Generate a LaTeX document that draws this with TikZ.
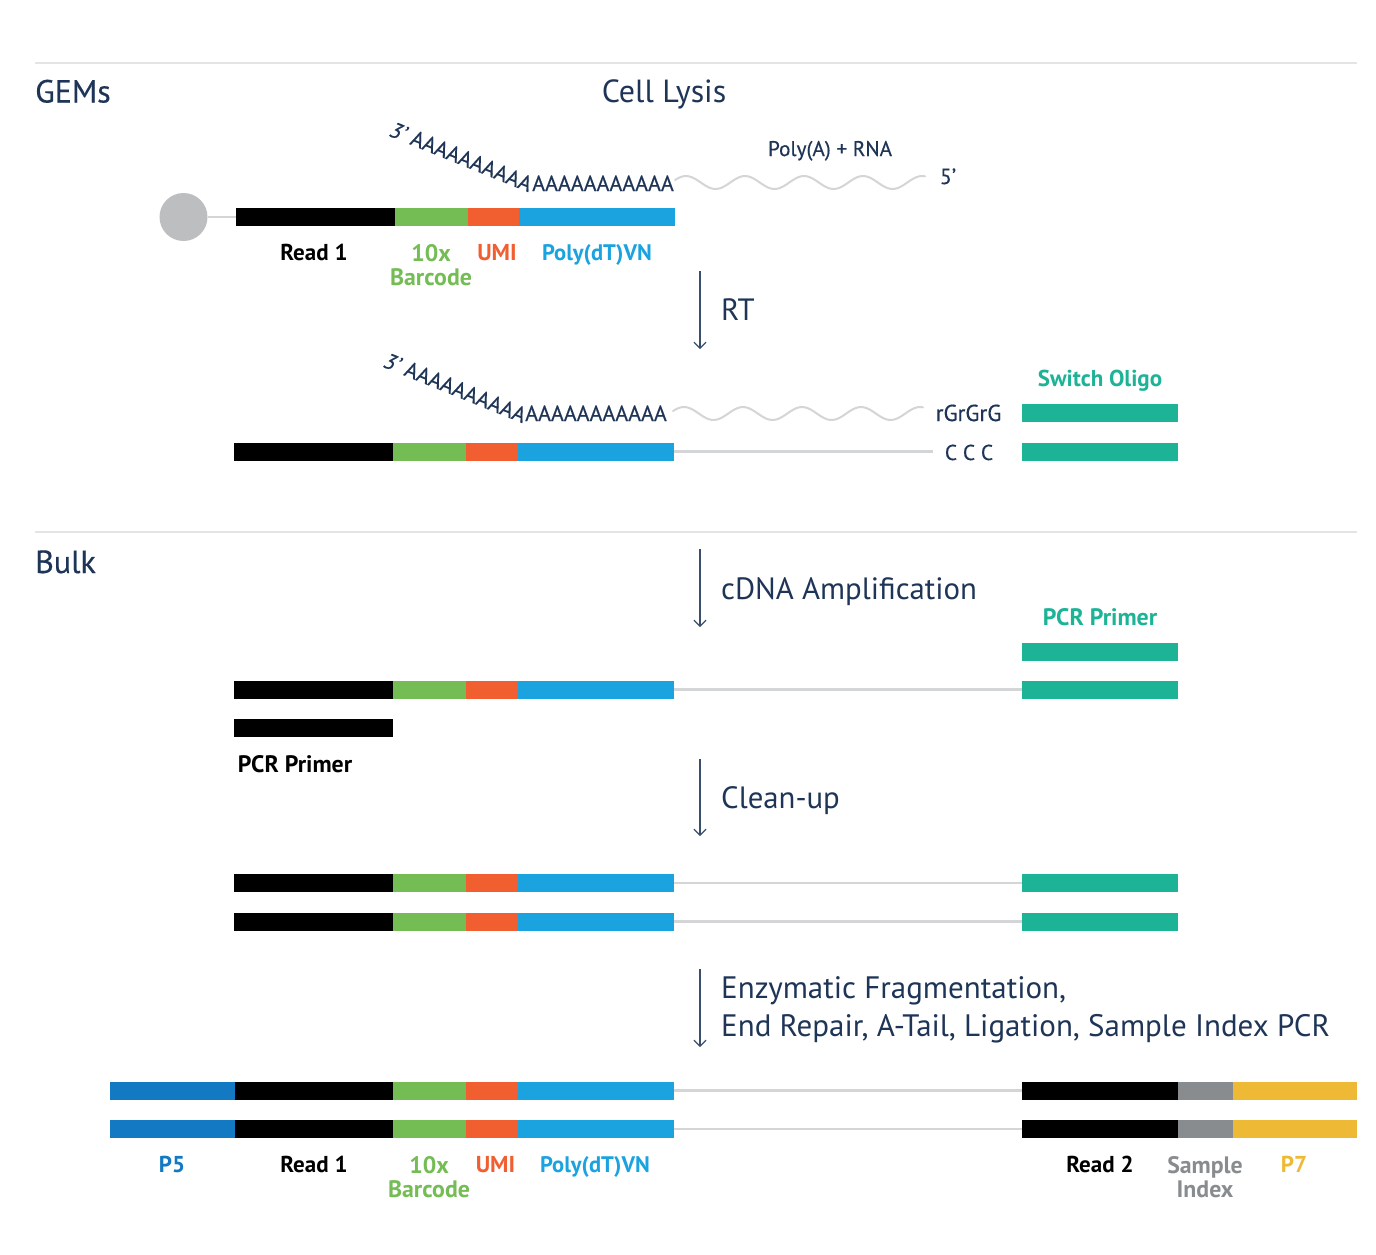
\documentclass[tikz,border=0pt]{standalone}
\usepackage{fontspec}
\setmainfont{PT Sans}
\newfontfamily\medfont[FakeBold=0.35]{PT Sans}
\usetikzlibrary{arrows.meta}
\definecolor{navy}{HTML}{1F3557}
\definecolor{arrowc}{HTML}{3A4F6C}
\definecolor{rulec}{HTML}{E3E4E5}
\definecolor{linec}{HTML}{D4D5D6}
\definecolor{rdgrn}{HTML}{74BC54}
\definecolor{rdora}{HTML}{F15E30}
\definecolor{rdblu}{HTML}{1BA3DF}
\definecolor{rdtea}{HTML}{1DB396}
\definecolor{rddbl}{HTML}{1279C2}
\definecolor{rdgry}{HTML}{898C8E}
\definecolor{rdyel}{HTML}{EEB934}
\definecolor{beadc}{HTML}{BCBEC0}
\tikzset{
  x=1pt,y=-1pt,
  seg/.style={rectangle,inner sep=0pt,outer sep=0pt,anchor=west,minimum height=18pt,fill=#1},
  bigt/.style={font=\fontsize{32}{36}\selectfont\medfont,text=navy,inner sep=0pt,anchor=base west},
  stept/.style={font=\fontsize{30.8}{38}\selectfont,text=navy,inner sep=0pt,anchor=base west,align=left},
  lab/.style={font=\fontsize{23}{25}\selectfont\bfseries,inner sep=0pt,anchor=base,text=#1},
  labn/.style={font=\fontsize{22.5}{25}\selectfont\bfseries,inner sep=0pt,anchor=base,text=#1},
  labw/.style={font=\fontsize{23.8}{25}\selectfont\bfseries,inner sep=0pt,align=center,text=#1},
  seqt/.style={font=\fontsize{22}{24}\selectfont\medfont,text=navy,inner sep=0pt,anchor=base},
  conn/.style={draw=linec,line width=2.4pt},
  sepline/.style={draw=rulec,line width=1.2pt},
  stepar/.style={draw=arrowc,line width=1.2pt,-{Straight Barb[length=6pt,width=12pt,line width=1.2pt]}}
}
\newcommand{\readrow}[3]{% prefix, x shift, y
  \node[seg=black,minimum width=158.8pt] (#1r) at (#2,#3) {};
  \node[seg=rdgrn,minimum width=73pt] (#1g) at (#2+158.8,#3) {};
  \node[seg=rdora,minimum width=51.5pt] (#1o) at (#2+231.8,#3) {};
  \node[seg=rdblu,minimum width=156.5pt] (#1b) at (#2+283.3,#3) {};
}
\newcommand{\tealbar}[2]{\node[seg=rdtea,minimum width=156.5pt] (#1) at (1021.5,#2) {};}
\newcommand{\libend}[2]{%
  \node[seg=black,minimum width=157pt] (#1e) at (1021.5,#2) {};
  \node[seg=rdgry,minimum width=54.5pt] (#1s) at (1178,#2) {};
  \node[seg=rdyel,minimum width=124pt] (#1y) at (1232.5,#2) {};
  \node[seg=rddbl,minimum width=125pt] (#1p) at (109.5,#2) {};
}
\newcommand{\rnawave}[3]{\draw[linec,line width=2pt,line cap=round] plot[domain=#2:#3,samples=90,smooth] (\x,{#1-6.5*cos(6.1*(\x-#2-11))});}
\begin{document}
\begin{tikzpicture}
\useasboundingbox (0,0) rectangle (1376,1254);
\fill[white] (0,0) rectangle (1376,1254);
% separators
\coordinate (s1a) at (35,63); \coordinate (s1b) at (1357,63);
\coordinate (s2a) at (35,532); \coordinate (s2b) at (1357,532);
\draw[sepline] (s1a) -- (s1b);
\draw[sepline] (s2a) -- (s2b);
\node[bigt] (gems) at (35,102.5) {GEMs};
\node[bigt] (bulk) at (35,573) {Bulk};
\node[stept,font=\fontsize{32}{36}\selectfont,anchor=base] (lysis) at (664,102.5) {Cell Lysis};
% row 1
\node[circle,fill=beadc,minimum size=48pt,inner sep=0pt] (bead) at (183.5,217) {};
\node[seg=black,minimum width=158.8pt] (ar) at (236,217) {};
\node[seg=rdgrn,minimum width=73pt] (ag) at (394.8,217) {};
\node[seg=rdora,minimum width=51.5pt] (ao) at (467.8,217) {};
\node[seg=rdblu,minimum width=156pt] (ab) at (519,217) {};
\draw[conn] (bead) -- (ar);
\node[lab=black] (t1) at (314,260.5) {Read 1};
\node[labw=rdgrn] (t2) at (431,265) {10x\\[-0.5pt]Barcode};
\node[lab=rdora] (t3) at (497,260.5) {UMI};
\node[labn=rdblu] (t4) at (597,260.5) {Poly(dT)VN};
\node[seqt,rotate=-22,anchor=base west] (sa1) at (388,135.5) {\textit{3’} AAAAAAAAAA};
\node[seqt,anchor=base east] (sa2) at (674,191) {AAAAAAAAAAA};
\rnawave{182.5}{675}{925}
\node[seqt,font=\fontsize{21.2}{24}\selectfont\medfont] (pa) at (830,156) {Poly(A) + RNA};
\node[seqt] (five) at (948,184) {5’};
% RT
\coordinate (a1a) at (700,271); \coordinate (a1b) at (700,349);
\draw[stepar] (a1a) -- (a1b);
\node[stept] (rt) at (721,320.5) {RT};
% row 2
\node[seqt,rotate=-22,anchor=base west] (sb1) at (382,366.5) {\textit{3’} AAAAAAAAAA};
\node[seqt,anchor=base east] (sb2) at (667,421) {AAAAAAAAAAA};
\rnawave{413.5}{673}{923}
\node[seqt,font=\fontsize{23}{24}\selectfont\medfont] (rg) at (968.5,421) {rGrGrG};
\node[lab=rdtea] (so) at (1100,386.5) {Switch Oligo};
\tealbar{b1}{413}
\readrow{b}{234.2}{451.5}
\node[seqt,font=\fontsize{21.5}{24}\selectfont\medfont] (ccc) at (969,460) {C C C};
\coordinate (bend) at (933,451.5);
\draw[conn] (bb) -- (bend);
\tealbar{b2}{451.5}
% cDNA
\coordinate (a2a) at (700,549); \coordinate (a2b) at (700,627);
\draw[stepar] (a2a) -- (a2b);
\node[stept] (cd) at (721,599.5) {cDNA Amplification};
\node[labw=rdtea,anchor=base] (pp1) at (1100,625) {PCR Primer};
\tealbar{c1}{651.5}
\readrow{c}{234.2}{689.5}
\tealbar{c2}{689.5}
\draw[conn] (cb) -- (c2);
\node[seg=black,minimum width=158.8pt] (cp) at (234.2,728) {};
\node[labw=black,anchor=base] (pp2) at (295,772) {PCR Primer};
% clean-up
\coordinate (a3a) at (700,759); \coordinate (a3b) at (700,836);
\draw[stepar] (a3a) -- (a3b);
\node[stept] (cu) at (721,808) {Clean-up};
\readrow{d}{234.2}{883}
\tealbar{d2}{883}
\draw[conn] (db) -- (d2);
\readrow{e}{234.2}{921.5}
\tealbar{e2}{921.5}
\draw[conn] (eb) -- (e2);
% fragmentation
\coordinate (a4a) at (700,969); \coordinate (a4b) at (700,1047);
\draw[stepar] (a4a) -- (a4b);
\node[stept,font=\fontsize{31}{38}\selectfont,anchor=north west] (ef) at (721,976) {Enzymatic Fragmentation,\\End Repair, A-Tail, Ligation, Sample Index PCR};
\readrow{f}{234.2}{1090.5}
\libend{f}{1090.5}
\draw[conn] (fb) -- (fe);
\readrow{g}{234.2}{1129}
\libend{g}{1129}
\draw[conn] (gb) -- (ge);
\node[lab=rddbl] (l1) at (172,1172.5) {P5};
\node[lab=black] (l2) at (314,1172.5) {Read 1};
\node[labw=rdgrn] (l3) at (429,1177) {10x\\[-0.5pt]Barcode};
\node[lab=rdora] (l4) at (495.5,1172.5) {UMI};
\node[labn=rdblu] (l5) at (595,1172.5) {Poly(dT)VN};
\node[lab=black] (l6) at (1100,1172.5) {Read 2};
\node[labw=rdgry] (l7) at (1205,1177) {Sample\\[-0.5pt]Index};
\node[lab=rdyel] (l8) at (1294,1172.5) {P7};
\end{tikzpicture}
\end{document}
